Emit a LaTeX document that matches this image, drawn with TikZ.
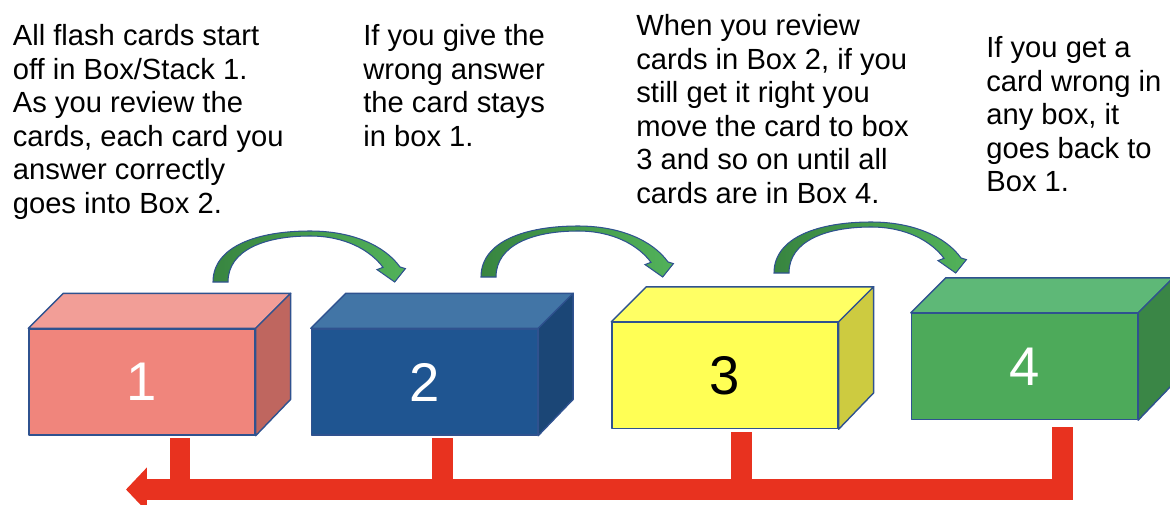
\documentclass[tikz,border=0pt]{standalone}
\usepackage{fontspec}
\setmainfont{Liberation Sans}
\usetikzlibrary{arrows.meta, calc}
\definecolor{rosefront}{RGB}{240, 133, 124}
\definecolor{rosetop}{RGB}{242, 158, 151}
\definecolor{roseside}{RGB}{191, 102, 95}
\definecolor{navyfront}{RGB}{31, 85, 145}
\definecolor{navytop}{RGB}{66, 117, 166}
\definecolor{navyside}{RGB}{27, 70, 118}
\definecolor{lemonfront}{RGB}{255, 255, 85}
\definecolor{lemontop}{RGB}{255, 255, 100}
\definecolor{lemonside}{RGB}{205, 203, 64}
\definecolor{leaffront}{RGB}{77, 170, 90}
\definecolor{leaftop}{RGB}{94, 184, 119}
\definecolor{leafside}{RGB}{58, 134, 70}
\definecolor{boxedge}{RGB}{47, 82, 143}
\definecolor{wrongred}{RGB}{232, 50, 31}
\definecolor{hopdark}{RGB}{56, 133, 64}
\definecolor{hoplight}{RGB}{82, 178, 90}

\tikzset{
    note/.style={anchor=north west, align=left, inner sep=0pt,
        font=\fontsize{16.6pt}{19.1pt}\selectfont},
    boxface/.style={draw=boxedge, line width=0.8pt, line join=round},
    backline/.style={wrongred, line width=0.42cm},
    hop/.pic={
        \path[draw=boxedge, line width=0.6pt, left color=hopdark, right color=hoplight]
            (0,0) .. controls (0,-36) and (45,-51) .. (97,-51)
            .. controls (140,-51) and (172,-36) .. (187,-15)
            -- (192.4,-13.4) -- (181.7,0) -- (164,-12.4) -- (170,-14.7)
            .. controls (157,-32) and (132,-46) .. (97,-46)
            .. controls (52,-46) and (15,-32) .. (15,0) -- cycle;
    }
}

\begin{document}
\begin{tikzpicture}[x=0.02cm, y=-0.02cm]
        \useasboundingbox (0,0) rectangle (1170,504);

        % Explanations
        \node[note] (rule1) at (12.5,24) {All flash cards start\\off in Box/Stack 1.\\As you review the\\cards, each card you\\answer correctly\\goes into Box 2.};
        \node[note] (rule2) at (363,24) {If you give the\\wrong answer\\the card stays\\in box 1.};
        \node[note] (rule3) at (636,14) {When you review\\cards in Box 2, if you\\still get it right you\\move the card to box\\3 and so on until all\\cards are in Box 4.};
        \node[note] (rule4) at (986,36) {If you get a\\card wrong in\\any box, it\\goes back to\\Box 1.};

        % Boxes
        \foreach \n/\cx/\cy/\col/\txt in {1/142/382/rose/white, 2/424.5/382/navy/white,
                3/725/375.5/lemon/black, 4/1024.5/366.5/leaf/white} {
            \node[boxface, fill=\col front, minimum width=4.52cm, minimum height=2.12cm,
                inner sep=0pt, text=\txt, font=\fontsize{31pt}{31pt}\selectfont]
                (box\n) at (\cx,\cy) {\n};
            \filldraw[boxface, fill=\col top] (box\n.north west) -- ++(35,-35)
                -- ($(box\n.north east)+(35,-35)$) -- (box\n.north east) -- cycle;
            \filldraw[boxface, fill=\col side] (box\n.north east) -- ++(35,-35)
                -- ++(0,106) -- (box\n.south east) -- cycle;
        }

        % Right answers move on
        \coordinate (hop1) at (213,282);
        \coordinate (hop2) at (481,277);
        \coordinate (hop3) at (774,273);
        \foreach \h in {1,2,3} {
            \pic at (hop\h) {hop};
        }

        % Wrong answers go back to box 1
        \coordinate (drop1) at (180,438);
        \coordinate (drop2) at (442.5,438);
        \coordinate (drop3) at (741,432);
        \coordinate (drop4) at (1062.5,427);
        \coordinate (back) at (126,489.5);
        \foreach \d in {1,2,3} {
            \draw[backline] (drop\d) -- (drop\d |- back);
        }
        \draw[backline, line join=miter, -{Triangle[length=0.42cm, width=0.86cm]}]
            (drop4) |- (back);

    \end{tikzpicture}
\end{document}
